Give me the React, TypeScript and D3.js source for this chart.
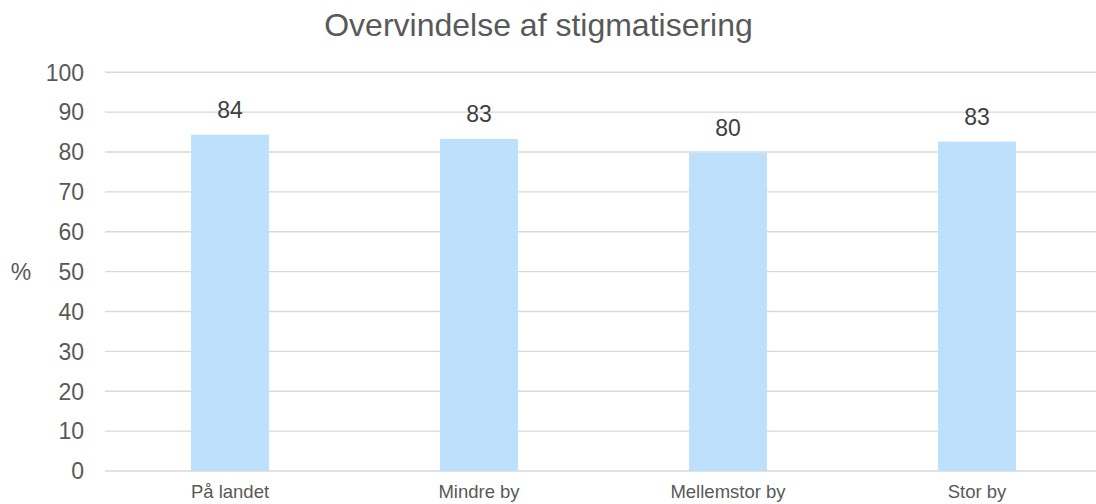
import React from "react";
import * as d3 from "d3";

const title = "Overvindelse af stigmatisering";
const categories = ["På landet", "Mindre by", "Mellemstor by", "Stor by"];
const values = [84.35, 83.3, 79.8, 82.6];
const yTicks = [0, 10, 20, 30, 40, 50, 60, 70, 80, 90, 100];
const yAxisLabel = "%";

const W = 1096;
const H = 504;
const FONT = "'Liberation Sans', Arial, Helvetica, sans-serif";

export default function App() {
  const x = d3.scaleBand<string>().domain(categories).range([105.5, 1101.5]).padding(0);
  const y = d3.scaleLinear().domain([0, 100]).range([471, 72.3]);
  const step = x.step();
  const bw = step * 0.313;
  const fmt = d3.format(".0f");

  return (
    <svg
      width={W}
      height={H}
      style={{ position: "absolute", left: 0, top: 0, background: "#fff" }}
      fontFamily={FONT}
    >
      <rect x={0} y={0} width={W} height={H} fill="#fff" />
      <text x={538.5} y={35.5} textAnchor="middle" fontSize={32} fill="#595959">
        {title}
      </text>
      {yTicks.map((t) => (
        <g key={t}>
          <line x1={105} x2={W} y1={y(t)} y2={y(t)} stroke="#d9d9d9" strokeWidth={1.4} />
          <text x={84} y={y(t) + 8.3} textAnchor="end" fontSize={23} fill="#595959">
            {t}
          </text>
        </g>
      ))}
      <text x={21} y={280} textAnchor="middle" fontSize={23} fill="#595959">
        {yAxisLabel}
      </text>
      {categories.map((c, i) => {
        const cx = (x(c) as number) + step / 2;
        return (
          <g key={c}>
            <rect x={cx - bw / 2} y={y(values[i])} width={bw} height={y(0) - y(values[i])} fill="#bde1fd" />
            <text x={cx} y={y(values[i]) - 17} textAnchor="middle" fontSize={23} fill="#404040">
              {fmt(values[i])}
            </text>
            <text x={cx} y={498} textAnchor="middle" fontSize={18.5} fill="#595959">
              {c}
            </text>
          </g>
        );
      })}
    </svg>
  );
}
